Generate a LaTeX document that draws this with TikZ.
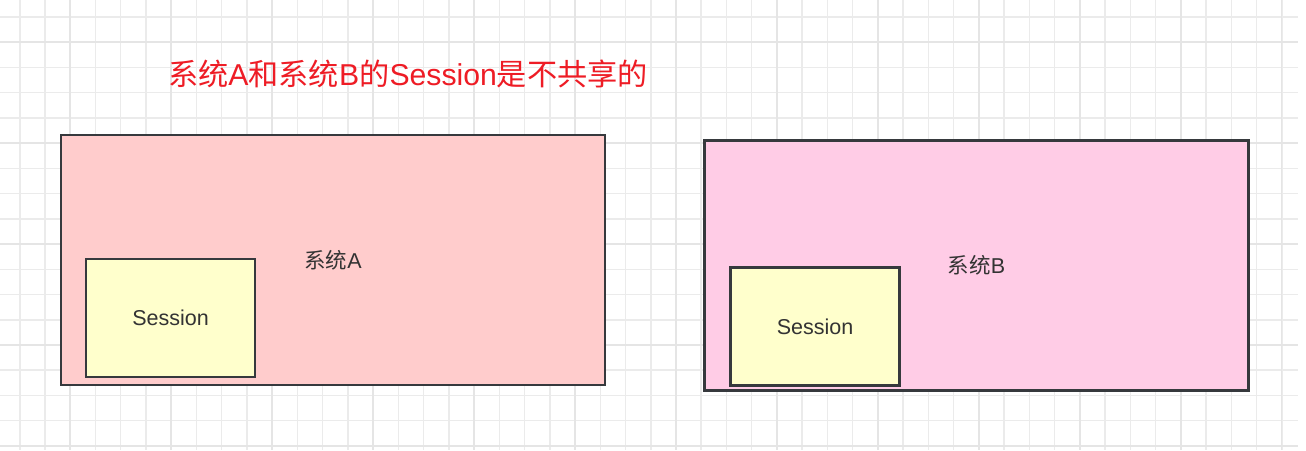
\documentclass[tikz,border=0pt]{standalone}
\usepackage{fontspec}
\setmainfont{Liberation Sans}
\newfontfamily\cjk{Noto Sans CJK SC}
\usetikzlibrary{positioning}

\definecolor{sysApink}{HTML}{FFCCCC}
\definecolor{sysBpink}{HTML}{FFCCE6}
\definecolor{sessyellow}{HTML}{FFFFCC}
\definecolor{boxline}{HTML}{36393D}
\definecolor{labeltext}{HTML}{333333}
\definecolor{titlered}{HTML}{EE1C25}
\definecolor{gridminor}{HTML}{EBEBEB}
\definecolor{gridmajor}{HTML}{E5E5E5}

\begin{document}
\begin{tikzpicture} [
    x = 1pt, y = -1pt,
    node distance = 8pt and 25pt,
    sysbox/.style = {draw=boxline, line width=2.6pt, inner sep=0pt,
        minimum width=544pt, minimum height=250pt,
        text=labeltext, font=\fontsize{21.5}{26}\selectfont},
    sessbox/.style = {draw=boxline, line width=2.6pt, inner sep=0pt,
        fill=sessyellow, minimum width=169pt, minimum height=118pt,
        text=labeltext, font=\fontsize{21.5}{26}\selectfont},
    gridline/.style = {gridminor, line width=1.5pt}]

\useasboundingbox (0,0) rectangle (1306,450);
\fill[white] (0,0) rectangle (1306,450);

% Grid
\foreach \i in {-1,...,49}
    \draw[gridline] ({45+25.24*\i},0) -- ({45+25.24*\i},450);
\foreach \j in {-4,...,13}
    \draw[gridline] (0,{345-25.24*\j}) -- (1298,{345-25.24*\j});
\foreach \i in {0,...,12}
    \draw[gridline, gridmajor] ({70.2+100.96*\i},0) -- ({70.2+100.96*\i},450);
\foreach \j in {-1,...,3}
    \draw[gridline, gridmajor] (0,{345-100.96*\j}) -- (1298,{345-100.96*\j});

% Title
\node (title) [text=titlered, font=\fontsize{30.2}{36}\selectfont] at (408,74)
    {{\cjk 系统}A{\cjk 和系统}B{\cjk 的}Session{\cjk 是不共享的}};

% System A
\node (sysA) [sysbox, fill=sysApink] at (333,260) {{\cjk 系统}A};
\node (sessA) [sessbox, above right = of sysA.south west] {Session};

% System B
\node (sysB) [sysbox, fill=sysBpink] at (976.5,265.5) {{\cjk 系统}B};
\node (sessB) [sessbox, above right = 5pt and 26pt of sysB.south west] {Session};
\end{tikzpicture}
\end{document}
